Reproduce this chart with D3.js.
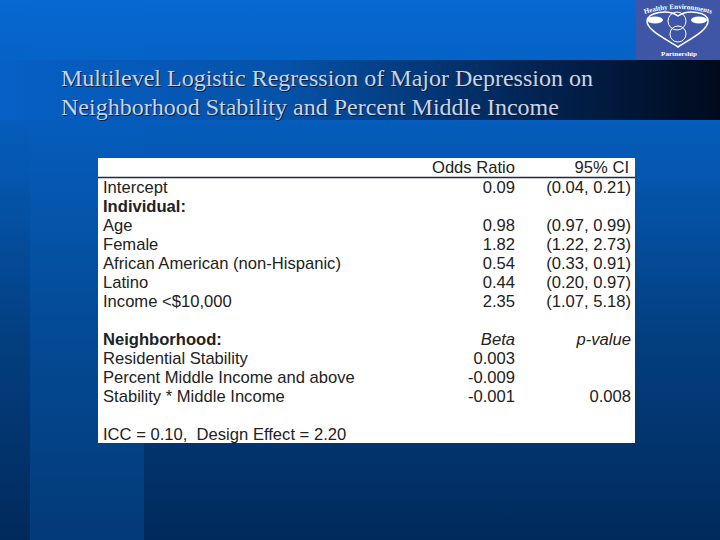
<!DOCTYPE html>
<html>
<head>
<meta charset="utf-8">
<script src="https://cdn.jsdelivr.net/npm/d3@7"></script>
<style>
    html, body { margin: 0; padding: 0; background: #003; }
    svg { display: block; }
</style>
</head>
<body>
<div id="slide"></div>
<script>
var titleLines = ["Multilevel Logistic Regression of Major Depression on",
    "Neighborhood Stability and Percent Middle Income"];

var rowLabels = ["Intercept", "Individual:", "Age", "Female", "African American (non-Hispanic)",
    "Latino", "Income <$10,000", "", "Neighborhood:", "Residential Stability",
    "Percent Middle Income and above", "Stability * Middle Income", "", "ICC = 0.10,  Design Effect = 2.20"];
var oddsValues = ["0.09", "", "0.98", "1.82", "0.54", "0.44", "2.35", "", "Beta", "0.003", "-0.009", "-0.001", "", ""];
var ciValues = ["(0.04, 0.21)", "", "(0.97, 0.99)", "(1.22, 2.73)", "(0.33, 0.91)", "(0.20, 0.97)", "(1.07, 5.18)",
    "", "p-value", "", "", "0.008", "", ""];
var boldRows = ["Individual:", "Neighborhood:"];
var italicRows = ["Beta", "p-value"];
var headers = ["Odds Ratio", "95% CI"];

var w = 720, h = 540;
var svg = d3.select("#slide").append("svg").attr("width", w).attr("height", h);
var defs = svg.append("defs");

function gradient(id, x2, y2, stops) {
    var g = defs.append("linearGradient").attr("id", id)
        .attr("x1", 0).attr("y1", 0).attr("x2", x2).attr("y2", y2);
    stops.forEach(function (s) {
        g.append("stop").attr("offset", s[0]).attr("stop-color", s[1]);
    });
}
gradient("bg", 0, 1, [[0, "#0668d2"], [0.3, "#0558b2"], [0.62, "#033f80"], [1, "#012a5c"]]);
gradient("strip", 0, 1, [[0, "#0668d2"], [0.3, "#0559b4"], [0.62, "#044a94"], [1, "#033a78"]]);
gradient("band", 1, 0, [[0, "#0660c6"], [0.4, "#0552a8"], [0.72, "#022658"], [1, "#000a1c"]]);

svg.append("rect").attr("width", w).attr("height", h).attr("fill", "url(#bg)");
svg.append("rect").attr("x", 30).attr("y", 0).attr("width", 114).attr("height", h).attr("fill", "url(#strip)");
svg.append("rect").attr("x", 0).attr("y", 60).attr("width", w).attr("height", 60).attr("fill", "url(#band)");

// logo, top right corner
var logo = svg.append("g");
logo.append("rect").attr("x", 636).attr("y", 0).attr("width", 84).attr("height", 60).attr("fill", "#3f55a6");
defs.append("path").attr("id", "logoArc").attr("d", "M644 14 Q678 4 712 14");
logo.append("path")
    .attr("d", "M678 47 C664 38 647 30 647 21 C648 12 668 9 678 16 C688 9 708 12 708 21 C708 30 692 38 678 47 Z")
    .attr("fill", "none").attr("stroke", "#fff").attr("stroke-width", 1.5);
logo.append("ellipse").attr("cx", 655).attr("cy", 20).attr("rx", 8).attr("ry", 3.5).attr("fill", "#fff");
logo.append("ellipse").attr("cx", 699).attr("cy", 20).attr("rx", 8).attr("ry", 3.5).attr("fill", "#fff");
logo.append("circle").attr("cx", 677).attr("cy", 21).attr("r", 9)
    .attr("fill", "none").attr("stroke", "#fff").attr("stroke-width", 1);
logo.append("circle").attr("cx", 678).attr("cy", 34).attr("r", 8)
    .attr("fill", "none").attr("stroke", "#fff").attr("stroke-width", 1);
logo.append("text").attr("font-family", "Liberation Serif").attr("font-size", 7).attr("font-weight", "bold")
    .attr("fill", "#fff")
    .append("textPath").attr("href", "#logoArc").attr("startOffset", "50%").attr("text-anchor", "middle")
    .text("Healthy Environments");
logo.append("text").attr("x", 679).attr("y", 56).attr("text-anchor", "middle")
    .attr("font-family", "Liberation Serif").attr("font-size", 7).attr("font-weight", "bold")
    .attr("fill", "#fff").text("Partnership");

// title with its soft shadow
var titleY = d3.scalePoint().domain(titleLines).range([86, 115]);
[["#0a1c3c", 1], ["#c9d5e6", 0]].forEach(function (t) {
    svg.selectAll(null).data(titleLines).enter().append("text")
        .attr("x", 61 + t[1])
        .attr("y", function (d) { return titleY(d) + t[1]; })
        .attr("font-family", "Liberation Serif").attr("font-size", 24)
        .attr("fill", t[0]).text(function (d) { return d; });
});

// table panel
svg.append("rect").attr("x", 98).attr("y", 158).attr("width", 537).attr("height", 285).attr("fill", "#fff");
svg.append("line").attr("x1", 98).attr("x2", 635).attr("y1", 177.5).attr("y2", 177.5)
    .attr("stroke", "#1c2a3a").attr("stroke-width", 1.5);

var rowY = d3.scaleLinear().domain([0, rowLabels.length - 1]).range([193, 440]);
var fontFamily = "Liberation Sans";
var fontSize = 16.6;
var textColor = "#222";

function column(values, x, anchor) {
    svg.append("g").selectAll("text").data(values).enter().append("text")
        .attr("x", x)
        .attr("y", function (d, i) { return rowY(i); })
        .attr("text-anchor", anchor)
        .attr("font-family", fontFamily).attr("font-size", fontSize).attr("fill", textColor)
        .attr("font-weight", function (d) { return boldRows.indexOf(d) >= 0 ? "bold" : "normal"; })
        .attr("font-style", function (d) { return italicRows.indexOf(d) >= 0 ? "italic" : "normal"; })
        .style("white-space", "pre")
        .text(function (d) { return d; });
}
column(rowLabels, 103, "start");
column(oddsValues, 515, "end");
column(ciValues, 631, "end");

svg.selectAll(".head").data(headers).enter().append("text").attr("class", "head")
    .attr("x", function (d, i) { return i === 0 ? 515 : 629; })
    .attr("y", 173)
    .attr("text-anchor", "end")
    .attr("font-family", fontFamily).attr("font-size", fontSize).attr("fill", textColor)
    .text(function (d) { return d; });
</script>
</body>
</html>
